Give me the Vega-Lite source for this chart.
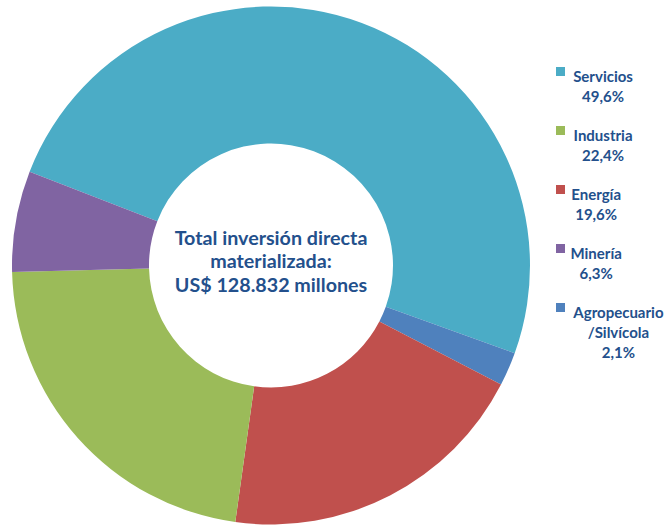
{
  "$schema": "https://vega.github.io/schema/vega-lite/v6.json",
  "width": 542,
  "height": 531,
  "padding": 0,
  "background": "white",
  "config": {"view": {"stroke": null}, "font": "Lato"},
  "layer": [
    {
      "data": {"values": [
        {"sector": "Servicios", "value": 49.6, "ord": 1},
        {"sector": "Agropecuario/Silvícola", "value": 2.1, "ord": 2},
        {"sector": "Energía", "value": 19.6, "ord": 3},
        {"sector": "Industria", "value": 22.4, "ord": 4},
        {"sector": "Minería", "value": 6.3, "ord": 5}
      ]},
      "mark": {"type": "arc", "outerRadius": 259, "innerRadius": 122},
      "encoding": {
        "theta": {"field": "value", "type": "quantitative", "stack": true, "scale": {"range": [-1.2, 5.0832]}},
        "order": {"field": "ord", "type": "quantitative"},
        "color": {
          "field": "sector", "type": "nominal",
          "scale": {
            "domain": ["Servicios", "Industria", "Energía", "Minería", "Agropecuario/Silvícola"],
            "range": ["#4BACC6", "#9BBB59", "#C0504D", "#8064A2", "#4F81BD"]
          },
          "legend": {
            "title": null,
            "orient": "none",
            "legendX": 553,
            "legendY": 64,
            "symbolType": "square",
            "symbolSize": 81,
            "symbolStrokeWidth": 0,
            "labelFont": "Lato",
            "labelFontSize": 15,
            "labelFontWeight": "bold",
            "labelColor": "#23508C",
            "labelBaseline": "top",
            "labelAlign": "center",
            "labelOffset": 4,
            "labelLimit": 200,
            "rowPadding": 18,
            "labelExpr": "datum.label == 'Servicios' ? ['Servicios', '49,6%'] : datum.label == 'Industria' ? ['Industria', '22,4%'] : datum.label == 'Energía' ? ['Energía', '19,6%'] : datum.label == 'Minería' ? ['Minería', '6,3%'] : ['Agropecuario', '/Silvícola', '2,1%']",
            "encode": {
              "labels": {
                "update": {
                  "lineHeight": {"value": 20},
                  "dy": {"value": -2},
                  "dx": {"signal": "length(split(datum.label, '/')[0]) * 3.45 + (indexof(datum.label, '/') > 0 ? 5 : 0)"}
                }
              }
            }
          }
        }
      }
    },
    {
      "data": {"values": [{}]},
      "mark": {
        "type": "text",
        "font": "Lato",
        "fontSize": 19.7,
        "fontWeight": "bold",
        "color": "#23508C",
        "align": "center",
        "baseline": "middle",
        "lineHeight": 23.5,
        "dy": -27
      },
      "encoding": {
        "text": {"value": ["Total inversión directa", "materializada:", "US$ 128.832 millones"]}
      }
    }
  ]
}
